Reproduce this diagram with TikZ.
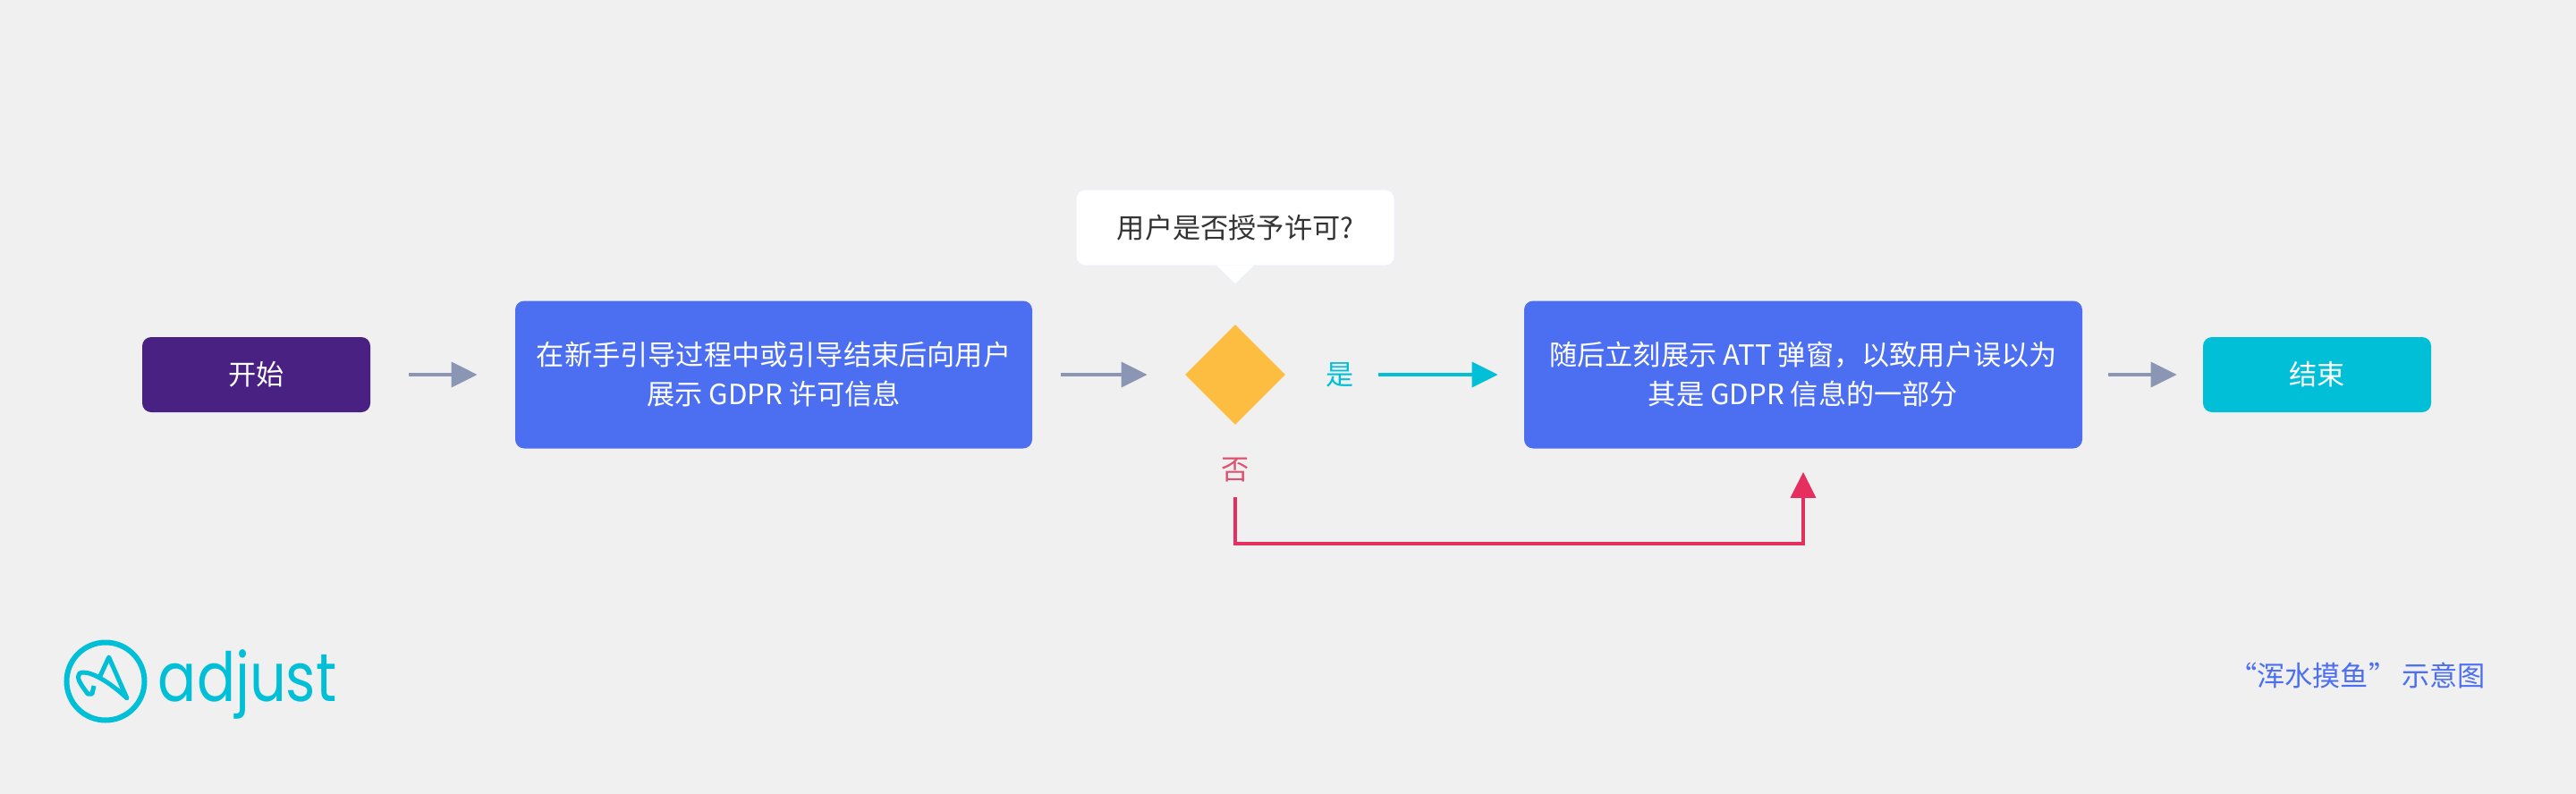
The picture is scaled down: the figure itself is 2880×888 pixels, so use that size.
\documentclass[tikz,border=0pt]{standalone}
\usepackage{fontspec}
\setmainfont{Noto Sans CJK SC}
\newfontfamily\logofont{Poppins}
\usetikzlibrary{arrows.meta,shapes.geometric}
\definecolor{bggray}{HTML}{F0F0F0}
\definecolor{startpurple}{HTML}{482183}
\definecolor{stepblue}{HTML}{4C6FF2}
\definecolor{adjustcyan}{HTML}{00BFD7}
\definecolor{decisionyellow}{HTML}{FDBD40}
\definecolor{flowgray}{HTML}{8B96B5}
\definecolor{noredline}{HTML}{E5305F}
\definecolor{nored}{HTML}{E0506E}
\definecolor{bubbleedge}{HTML}{EBF0FB}
\definecolor{darktext}{HTML}{333333}
\tikzset{
  box/.style={rounded corners=5pt,inner sep=0pt,text=white,align=center,
    font=\fontsize{15.6}{22}\selectfont},
  smallbox/.style={box,minimum width=127.5pt,minimum height=42pt},
  bigbox/.style={box,fill=stepblue,minimum height=82.5pt},
  label/.style={font=\fontsize{15.6}{20}\selectfont},
  flow/.style={line width=1.75pt,-{Triangle[length=14.5pt,width=14pt]},flowgray},
  bubble/.style={fill=white,draw=bubbleedge,line width=.5pt}
}
\begin{document}
\begin{tikzpicture}[x=.5pt,y=-.5pt]
  \fill[bggray] (0,0) rectangle (2880,888);
  \useasboundingbox (0,0) rectangle (2880,888);
  \node[smallbox,fill=startpurple] (start) at (286.5,419) {开始};
  \node[bigbox,minimum width=289pt] (showinfo) at (865,419) {在新手引导过程中或引导结束后向用户\\展示 GDPR 许可信息};
  \node[diamond,fill=decisionyellow,minimum width=56pt,minimum height=56pt,inner sep=0pt] (decision) at (1381,419) {};
  \node[label,text=adjustcyan] (yes) at (1498,419) {是};
  \node[bigbox,minimum width=312pt] (showatt) at (2016,419) {随后立刻展示 ATT 弹窗，以致用户误以为\\其是 GDPR 信息的一部分};
  \node[smallbox,fill=adjustcyan] (finish) at (2590.5,419) {结束};
  \node[label,text=nored] (no) at (1381,526) {否};
  \node[bubble,rounded corners=5pt,minimum width=178pt,minimum height=42.5pt,inner sep=0pt,
    label,text=darktext] (question) at (1381,254.5) {用户是否授予许可?};
  \filldraw[bubble] (1359,296.5) -- (1381,318) -- (1403,296.5);
  \draw[flow,shorten <=21.5pt,shorten >=21pt] (start) -- (showinfo);
  \draw[flow,shorten <=16pt,shorten >=21pt] (showinfo) -- (decision);
  \draw[flow,adjustcyan,shorten <=10pt,shorten >=14.5pt] (yes) -- (showatt);
  \draw[flow,shorten <=14.5pt,shorten >=14.5pt] (showatt) -- (finish);
  \coordinate (bend) at (1381,608);
  \coordinate (noend) at (1381,556);
  \draw[flow,noredline,line width=2pt,shorten >=13pt] (noend) -- (bend) -| (showatt.south);
  \node[label,text=stepblue,anchor=east] (caption) at (2786,756) {“浑水摸鱼”\hspace{3pt}示意图};
  \draw[adjustcyan,line width=3pt] (118,762) circle (43.5);
  \draw[adjustcyan,line width=2.5pt,line join=round] (111.7,756.7) -- (121.7,735) -- (142,781)
    .. controls (125,765) and (105,752) .. (93,752) .. controls (85,752) and (87,760) .. (91,766)
    -- (98,776) -- (103,776) -- (105,767);
  \node[text=adjustcyan,font=\logofont\fontsize{38}{38}\selectfont,xscale=.84,anchor=base west] (logo) at (171,784) {adjust};
\end{tikzpicture}
\end{document}
